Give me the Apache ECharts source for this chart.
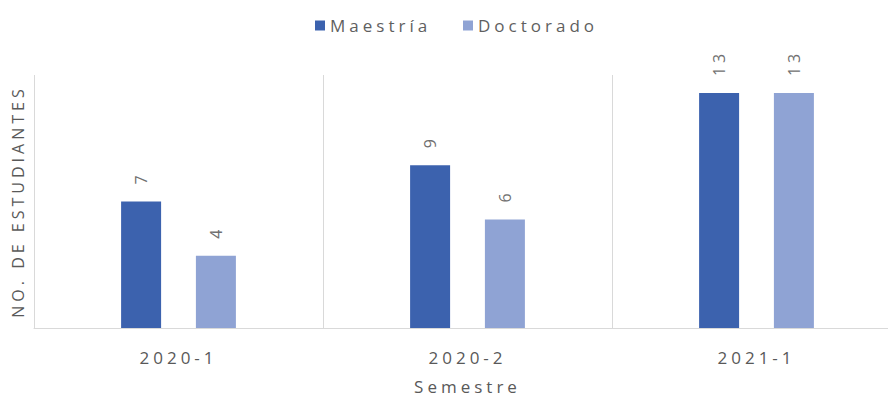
<!DOCTYPE html>
<html>
<head>
<meta charset="utf-8">
<script src="https://cdn.jsdelivr.net/npm/echarts@6/dist/echarts.min.js"></script>
<style>
  html, body { margin: 0; padding: 0; background: #fff; }
  #chart { width: 888px; height: 399px; }
  /* widened tracking on every chart text */
  #chart svg text { letter-spacing: 4px; }
</style>
</head>
<body>
<div id="chart"></div>
<script>
const semesters = ['2020-1', '2020-2', '2021-1'];
const maestria = [7, 9, 13];
const doctorado = [4, 6, 13];
const seriesNames = ['Maestría', 'Doctorado'];
const yAxisTitle = 'NO. DE ESTUDIANTES';
const xAxisTitle = 'Semestre';

const FONT = '"Open Sans", "Noto Sans", sans-serif';
const COLORS = ['#3C62AE', '#8FA3D4'];

const chart = echarts.init(document.getElementById('chart'), null, { renderer: 'svg' });

const labelStyle = {
  show: true,
  position: 'top',
  rotate: 90,
  align: 'left',
  verticalAlign: 'middle',
  distance: 17,
  fontFamily: FONT,
  fontSize: 16,
  color: '#707070'
};

const legendBase = {
  top: 17,
  padding: 0,
  icon: 'rect',
  itemWidth: 10,
  itemHeight: 10,
  itemGap: 0,
  textStyle: { fontFamily: FONT, fontSize: 17, color: '#5f5f5f' }
};

chart.setOption({
  animation: false,
  color: COLORS,
  legend: [
    Object.assign({ left: 315, data: [seriesNames[0]] }, legendBase),
    Object.assign({ left: 463, data: [seriesNames[1]] }, legendBase)
  ],
  // the plot area runs past the right edge of the canvas
  grid: { left: 34, width: 867, top: 75, bottom: 71, containLabel: false, outerBoundsMode: 'none' },
  xAxis: {
    type: 'category',
    data: semesters,
    axisLine: { lineStyle: { color: '#d9d9d9', width: 1 } },
    axisTick: { show: false },
    splitLine: { show: true, lineStyle: { color: '#d9d9d9', width: 1 } },
    axisLabel: { margin: 21, fontFamily: FONT, fontSize: 17, color: '#595959' },
    name: xAxisTitle,
    nameLocation: 'middle',
    nameGap: 50,
    nameTextStyle: { fontFamily: FONT, fontSize: 17, color: '#595959' }
  },
  yAxis: {
    type: 'value',
    min: 0,
    max: 14,
    axisLine: { show: false },
    axisTick: { show: false },
    axisLabel: { show: false },
    splitLine: { show: false },
    name: yAxisTitle,
    nameLocation: 'middle',
    nameRotate: 90,
    nameGap: 8,
    nameTextStyle: { fontFamily: FONT, fontSize: 16, color: '#595959' }
  },
  series: [
    {
      name: seriesNames[0],
      type: 'bar',
      data: maestria,
      barWidth: 40,
      barGap: '87%',
      label: labelStyle
    },
    {
      name: seriesNames[1],
      type: 'bar',
      data: doctorado,
      barWidth: 40,
      barGap: '87%',
      label: labelStyle
    }
  ]
});
</script>
</body>
</html>
